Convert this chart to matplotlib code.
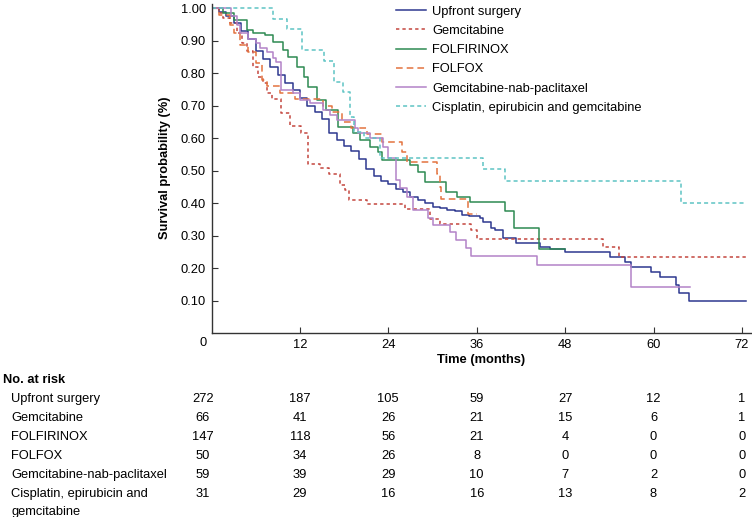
import matplotlib
matplotlib.use('Agg')
import matplotlib.pyplot as plt
from matplotlib.lines import Line2D
from matplotlib.transforms import blended_transform_factory

plt.rcParams['font.family'] = ['Liberation Sans', 'DejaVu Sans']
plt.rcParams['lines.scale_dashes'] = False

# ---------------- data ----------------
group_names = ['Upfront surgery', 'Gemcitabine', 'FOLFIRINOX', 'FOLFOX',
               'Gemcitabine-nab-paclitaxel', 'Cisplatin, epirubicin and gemcitabine']
table_names = ['Upfront surgery', 'Gemcitabine', 'FOLFIRINOX', 'FOLFOX',
               'Gemcitabine-nab-paclitaxel', 'Cisplatin, epirubicin and\ngemcitabine']

upfront_t = [0, 1, 2, 3, 4, 5, 6, 7, 8, 9, 10, 11, 12, 13, 14, 15, 16, 17, 18, 19, 20,
             21, 22, 23, 24, 25, 26, 27, 28, 29, 30, 31, 32, 33, 34, 35, 36.4, 36.9, 38,
             38.5, 39.6, 41.4, 44.6, 46, 48, 54.1, 56.1, 57, 59.7, 60.9, 63, 63.5, 64.8, 72.5]
upfront_s = [1.0, 0.99, 0.975, 0.955, 0.93, 0.905, 0.87, 0.845, 0.82, 0.795, 0.77, 0.75,
             0.725, 0.70, 0.68, 0.66, 0.615, 0.595, 0.575, 0.56, 0.535, 0.505, 0.485, 0.47,
             0.46, 0.445, 0.435, 0.42, 0.41, 0.40, 0.39, 0.385, 0.38, 0.375, 0.365, 0.36,
             0.355, 0.343, 0.325, 0.318, 0.292, 0.279, 0.265, 0.258, 0.251, 0.236, 0.22,
             0.205, 0.19, 0.174, 0.149, 0.123, 0.10, 0.10]

gem_t = [0, 1.0, 1.6, 2.5, 3.4, 4.2, 4.8, 5.7, 6.3, 7.0, 7.6, 8.2, 9.5, 10.7, 12.2, 13.1,
         14.7, 16.0, 17.4, 18.1, 18.6, 21.1, 26.3, 29.6, 31.0, 35.2, 36.0, 53.2, 55.3, 72.5]
gem_s = [1.0, 0.985, 0.97, 0.955, 0.924, 0.894, 0.87, 0.82, 0.79, 0.77, 0.74, 0.72, 0.677,
         0.638, 0.615, 0.52, 0.508, 0.49, 0.456, 0.441, 0.41, 0.397, 0.382, 0.352, 0.335,
         0.318, 0.289, 0.267, 0.236, 0.236]

folfirinox_t = [0, 1.6, 3.0, 4.8, 5.7, 7.3, 8.4, 9.7, 10.4, 11.6, 12.5, 13.1, 14.3, 15.6,
                17.2, 19.2, 20.1, 21.5, 22.6, 23.1, 26.9, 28.0, 29.0, 31.9, 33.3, 35.1,
                39.8, 41.0, 44.5, 48.0]
folfirinox_s = [1.0, 0.985, 0.964, 0.933, 0.923, 0.918, 0.897, 0.872, 0.851, 0.82, 0.79,
                0.759, 0.718, 0.687, 0.636, 0.615, 0.595, 0.574, 0.559, 0.533, 0.518, 0.497,
                0.467, 0.436, 0.42, 0.403, 0.376, 0.323, 0.258, 0.258]

folfox_t = [0, 1.0, 2.5, 3.0, 3.9, 5.0, 6.1, 6.8, 7.5, 9.3, 11.3, 15.1, 16.3, 17.7, 19.0,
            21.1, 23.1, 25.8, 26.5, 30.6, 31.0, 31.2, 34.8, 36.0]
folfox_s = [1.0, 0.98, 0.949, 0.923, 0.887, 0.866, 0.831, 0.779, 0.761, 0.738, 0.72, 0.70,
            0.68, 0.65, 0.632, 0.612, 0.59, 0.559, 0.528, 0.49, 0.45, 0.412, 0.367, 0.367]

nab_t = [0, 2.7, 3.5, 3.9, 5.0, 6.1, 6.6, 7.5, 8.4, 8.8, 9.5, 11.1, 12.0, 13.4, 15.2, 16.1,
         17.0, 19.5, 19.9, 21.5, 23.3, 24.0, 25.1, 25.6, 26.5, 27.4, 29.4, 30.1, 32.4, 33.2,
         34.5, 35.2, 44.2, 57.0, 64.9]
nab_s = [1.0, 0.975, 0.95, 0.923, 0.905, 0.892, 0.877, 0.866, 0.846, 0.836, 0.749, 0.738,
         0.718, 0.708, 0.687, 0.672, 0.656, 0.631, 0.615, 0.60, 0.574, 0.538, 0.472, 0.446,
         0.42, 0.379, 0.354, 0.333, 0.313, 0.287, 0.262, 0.238, 0.21, 0.142, 0.142]

cis_t = [0, 8.4, 10.3, 12.3, 15.3, 16.6, 17.8, 18.8, 19.3, 20.7, 22.9, 36.9, 39.9, 63.8, 72.5]
cis_s = [1.0, 0.968, 0.935, 0.871, 0.839, 0.774, 0.742, 0.667, 0.62, 0.60, 0.538, 0.505,
         0.469, 0.402, 0.402]

risk_times = [0, 12, 24, 36, 48, 60, 72]
risk_upfront = [272, 187, 105, 59, 27, 12, 1]
risk_gem = [66, 41, 26, 21, 15, 6, 1]
risk_folfirinox = [147, 118, 56, 21, 4, 0, 0]
risk_folfox = [50, 34, 26, 8, 0, 0, 0]
risk_nab = [59, 39, 29, 10, 7, 2, 0]
risk_cis = [31, 29, 16, 16, 13, 8, 2]

y_ticks = [0.10, 0.20, 0.30, 0.40, 0.50, 0.60, 0.70, 0.80, 0.90, 1.00]
x_ticks = [12, 24, 36, 48, 60, 72]

# ---------------- styles ----------------
colors = ['#2d3890', '#c4463f', '#2e8a52', '#e3733e', '#b383c8', '#5ec4c4']
styles = ['-', (0, (2.4, 2.2)), '-', (0, (4.8, 2.9)), '-', (0, (2.9, 2.2))]

W, H = 752, 517
fig = plt.figure(figsize=(W / 100, H / 100), dpi=100)
x0_px, x1_px = 211.5, 751.0
y0_px, y1_px = 333.3, 3.5
px_per_month = 88.4 / 12
px_per_unit = 325.0
ax = fig.add_axes([x0_px / W, 1 - y0_px / H, (x1_px - x0_px) / W, (y0_px - y1_px) / H])
ax.set_xlim(0, (x1_px - x0_px) / px_per_month)
ax.set_ylim(0, (y0_px - y1_px) / px_per_unit)

series = [(upfront_t, upfront_s), (gem_t, gem_s), (folfirinox_t, folfirinox_s),
          (folfox_t, folfox_s), (nab_t, nab_s), (cis_t, cis_s)]
handles = []
for (t, s), c, ls, name in zip(series, colors, styles, group_names):
    ax.step(t, s, where='post', color=c, linestyle=ls, lw=1.1)
    handles.append(Line2D([0], [0], color=c, linestyle=ls, lw=1.1))

for sp in ['top', 'right']:
    ax.spines[sp].set_visible(False)
for sp in ['left', 'bottom']:
    ax.spines[sp].set_linewidth(1.0)
    ax.spines[sp].set_color('#333333')

fs = 9.3
ax.set_xticks(x_ticks)
ax.set_xticklabels([str(v) for v in x_ticks])
ax.set_yticks(y_ticks)
ax.set_yticklabels(['%.2f' % v for v in y_ticks])
ax.tick_params(axis='both', direction='in', length=4, width=0.8, color='#333333',
               labelsize=fs)
ax.tick_params(axis='x', pad=4)
ax.tick_params(axis='y', pad=4)

fig.text(203 / W, 1 - 343.5 / H, '0', ha='center', va='center', fontsize=fs)
fig.text(481 / W, 1 - 360 / H, 'Time (months)', ha='center', va='center',
         fontsize=fs, fontweight='bold')
fig.text(165 / W, 1 - 168 / H, 'Survival probability (%)', ha='center', va='center',
         rotation=90, fontsize=fs, fontweight='bold')

leg = ax.legend(handles, group_names, loc='upper left',
                bbox_to_anchor=(396 / W, 1 - 5.5 / H), bbox_transform=fig.transFigure,
                frameon=False, borderpad=0, borderaxespad=0, handlelength=2.3,
                handletextpad=0.5, labelspacing=0.56, fontsize=fs)

# ---------------- risk table ----------------
trans = blended_transform_factory(ax.transData, fig.transFigure)
fig.text(3 / W, 1 - 380 / H, 'No. at risk', ha='left', va='center', fontsize=fs,
         fontweight='bold')
row_y = [399.3, 417.7, 436.7, 456.0, 475.0, 494.0]
line_gap = 17.8
risks = [risk_upfront, risk_gem, risk_folfirinox, risk_folfox, risk_nab, risk_cis]
col_x = [(203 - x0_px) / px_per_month] + risk_times[1:]
for name, yv, vals in zip(table_names, row_y, risks):
    for k, part in enumerate(name.split('\n')):
        fig.text(11 / W, 1 - (yv + k * line_gap) / H, part, ha='left', va='center',
                 fontsize=fs)
    for cx, v in zip(col_x, vals):
        ax.text(cx, 1 - yv / H, str(v), transform=trans, ha='center', va='center',
                fontsize=fs)

fig.savefig('out.png', dpi=100)
